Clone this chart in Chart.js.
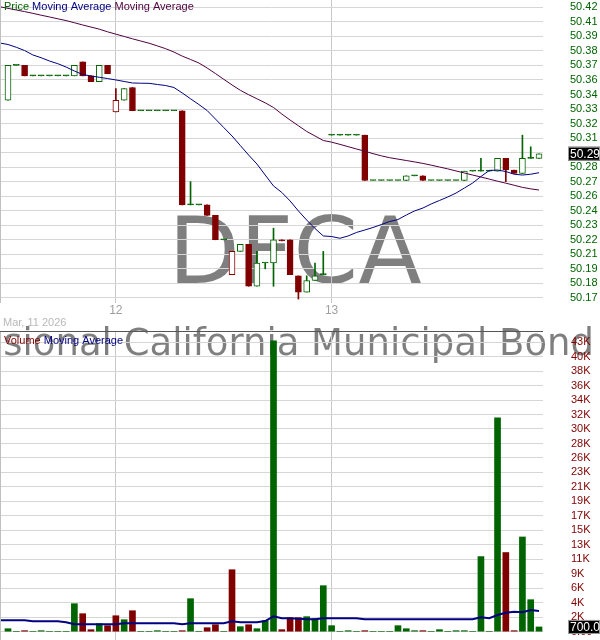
<!DOCTYPE html>
<html>
<head>
<meta charset="utf-8">
<script src="https://cdn.jsdelivr.net/npm/chart.js@4.4.1/dist/chart.umd.min.js"></script>
<style>
  html, body { margin: 0; padding: 0; background: #fff; }
  #wrap { position: relative; width: 600px; height: 640px; overflow: hidden; }
  #priceChart { position: absolute; left: 0; top: 0; }
  #volumeChart { position: absolute; left: 0; top: 315px; }
</style>
</head>
<body>
<div id="wrap">
  <canvas id="priceChart" width="600" height="320"></canvas>
  <canvas id="volumeChart" width="600" height="325"></canvas>
</div>
<script>
// 15 minute bars, Mar 11 (partial), Mar 12 and Mar 13
const opens = [
  50.340, 50.370, 50.370, 50.361, 50.361, 50.361, 50.361, 50.361, 50.361, 50.373, 50.361, 50.356, 50.370,
  50.330, 50.340, 50.351, 50.331, 50.331, 50.331, 50.331, 50.331, 50.331, 50.250, 50.250, 50.250, 50.241,
  50.220, 50.190, 50.210, 50.216, 50.180, 50.200, 50.200, 50.220, 50.220, 50.189, 50.175, 50.185, 50.190,
  50.310, 50.310, 50.310, 50.310, 50.310, 50.271, 50.271, 50.271, 50.271, 50.271, 50.275, 50.275, 50.271,
  50.271, 50.271, 50.271, 50.271, 50.279, 50.279, 50.279, 50.279, 50.290, 50.280, 50.277, 50.290, 50.290
];
const highs = [
  50.370, 50.370, 50.370, 50.361, 50.361, 50.361, 50.361, 50.361, 50.370, 50.373, 50.361, 50.370, 50.370,
  50.350, 50.350, 50.351, 50.331, 50.331, 50.331, 50.331, 50.331, 50.331, 50.270, 50.250, 50.250, 50.241,
  50.220, 50.210, 50.216, 50.216, 50.210, 50.200, 50.230, 50.220, 50.220, 50.189, 50.189, 50.200, 50.210,
  50.310, 50.310, 50.310, 50.310, 50.310, 50.271, 50.271, 50.271, 50.271, 50.275, 50.275, 50.275, 50.271,
  50.271, 50.271, 50.271, 50.279, 50.279, 50.290, 50.279, 50.290, 50.290, 50.280, 50.310, 50.300, 50.294
];
const lows = [
  50.340, 50.370, 50.361, 50.361, 50.361, 50.361, 50.361, 50.361, 50.361, 50.361, 50.356, 50.356, 50.363,
  50.330, 50.340, 50.331, 50.331, 50.331, 50.331, 50.331, 50.331, 50.250, 50.250, 50.250, 50.241, 50.220,
  50.220, 50.190, 50.210, 50.180, 50.180, 50.195, 50.180, 50.219, 50.190, 50.169, 50.175, 50.185, 50.190,
  50.310, 50.310, 50.310, 50.310, 50.271, 50.271, 50.271, 50.271, 50.271, 50.271, 50.275, 50.271, 50.271,
  50.271, 50.271, 50.271, 50.271, 50.279, 50.279, 50.279, 50.279, 50.270, 50.277, 50.277, 50.290, 50.290
];
const closes = [
  50.370, 50.370, 50.361, 50.361, 50.361, 50.361, 50.361, 50.361, 50.370, 50.361, 50.356, 50.370, 50.363,
  50.340, 50.350, 50.331, 50.331, 50.331, 50.331, 50.331, 50.331, 50.250, 50.250, 50.250, 50.241, 50.220,
  50.220, 50.210, 50.216, 50.180, 50.200, 50.200, 50.220, 50.219, 50.190, 50.175, 50.185, 50.189, 50.190,
  50.310, 50.310, 50.310, 50.310, 50.271, 50.271, 50.271, 50.271, 50.271, 50.275, 50.275, 50.271, 50.271,
  50.271, 50.271, 50.271, 50.279, 50.279, 50.279, 50.279, 50.290, 50.280, 50.277, 50.290, 50.290, 50.294
];
const volumes = [
  440, 0, 150, 0, 150, 0, 0, 0, 4140, 2660, 300, 1180, 890,
  2360, 1770, 3100, 0, 0, 150, 0, 0, 150, 4880, 0, 590, 1030,
  0, 9160, 740, 1030, 440, 1630, 43000, 300, 2070, 2070, 2220, 1920, 6800,
  890, 0, 150, 0, 150, 0, 0, 0, 890, 440, 150, 150, 0,
  300, 0, 150, 150, 0, 11100, 0, 31600, 11700, 150, 14000, 4730, 700
];
// moving averages: first value is the bar before the first one shown
const maShort = [50.3893,
  50.3880, 50.3856, 50.3828, 50.3790, 50.3766, 50.3738, 50.3715, 50.3686, 50.3652, 50.3622, 50.3609, 50.3598, 50.3587,
  50.3575, 50.3562, 50.3549, 50.3547, 50.3546, 50.3536, 50.3527, 50.3510, 50.3463, 50.3413, 50.3364, 50.3312, 50.3239,
  50.3166, 50.3093, 50.3011, 50.2929, 50.2852, 50.2757, 50.2663, 50.2607, 50.2534, 50.2448, 50.2370, 50.2297, 50.2233,
  50.2228, 50.2213, 50.2233, 50.2263, 50.2284, 50.2306, 50.2331, 50.2357, 50.2374, 50.2413, 50.2448, 50.2473, 50.2508,
  50.2538, 50.2568, 50.2602, 50.2645, 50.2688, 50.2744, 50.2796, 50.2800, 50.2787, 50.2764, 50.2757, 50.2764, 50.2777
];
const maLong = [50.4205,
  50.4191, 50.4177, 50.4163, 50.4148, 50.4132, 50.4117, 50.4101, 50.4086, 50.4067, 50.4048, 50.4030, 50.4012, 50.3989,
  50.3969, 50.3949, 50.3929, 50.3910, 50.3891, 50.3868, 50.3844, 50.3815, 50.3780, 50.3751, 50.3721, 50.3678, 50.3630,
  50.3581, 50.3532, 50.3486, 50.3448, 50.3413, 50.3378, 50.3338, 50.3282, 50.3230, 50.3181, 50.3132, 50.3093, 50.3054,
  50.3040, 50.3021, 50.3001, 50.2981, 50.2962, 50.2941, 50.2922, 50.2906, 50.2894, 50.2882, 50.2870, 50.2857, 50.2842,
  50.2826, 50.2810, 50.2792, 50.2775, 50.2757, 50.2740, 50.2722, 50.2704, 50.2687, 50.2669, 50.2651, 50.2638, 50.2628
];
const volumeMa = [1690,
  1690, 1690, 1690, 1540, 1540, 1540, 1540, 1390, 1090, 1090, 1090, 1090, 1090,
  1090, 1240, 1240, 1240, 1240, 1240, 1240, 1240, 1090, 1240, 1240, 1240, 1240,
  1240, 1540, 1390, 1390, 1390, 1580, 2280, 1980, 1980, 1900, 1830, 1830, 1980,
  1980, 1980, 1980, 1980, 1830, 1830, 1830, 1830, 1830, 1830, 1830, 1830, 1830,
  1830, 1830, 1830, 1830, 1830, 2130, 1980, 2470, 2810, 2960, 2880, 3210, 3060
];

const dayTickSlots = [13, 39];
const dayTickLabels = ['12', '13'];
const priceTickLabels = ['50.17', '50.18', '50.19', '50.21', '50.22', '50.23', '50.24', '50.26', '50.27', '50.28', '50.29',
  '50.31', '50.32', '50.33', '50.34', '50.36', '50.37', '50.38', '50.39', '50.41', '50.42'];
const volumeTickLabels = ['0.00', '2K', '4K', '6K', '9K', '11K', '13K', '15K', '17K', '19K', '21K',
  '23K', '26K', '28K', '30K', '32K', '34K', '36K', '38K', '40K', '43K'];
const PRICE_STEP = 0.0125;
const VOLUME_STEP = 2140;

const GREEN = '#006400';
const RED = '#800000';
const NAVY = '#000080';
const PURPLE = '#500040';

Chart.defaults.font.family = '"Liberation Sans", Arial, sans-serif';

const slots = closes.map((c, i) => i);
const candleColors = slots.map(i => closes[i] >= (i ? closes[i - 1] : opens[i]) ? GREEN : RED);
const bodyFills = slots.map(i => closes[i] > opens[i] ? '#ffffff' : candleColors[i]);

function slotAxis(showLabels, height) {
  return {
    type: 'linear', min: -0.964, max: 64.48, offset: false,
    grid: { color: '#c8c8c8', drawTicks: false, offset: false },
    border: { display: false },
    ticks: { display: showLabels, color: '#a0a0a0', font: { size: 12 }, padding: 0, autoSkip: false, maxRotation: 0,
      callback: (v, i) => dayTickLabels[i] },
    afterBuildTicks: s => { s.ticks = dayTickSlots.map(v => ({ value: v })); },
    afterFit: s => { s.height = height; s.paddingLeft = 0; s.paddingRight = 0; }
  };
}

function drawLeftBorder(chart) {
  const { ctx, chartArea } = chart;
  ctx.save();
  ctx.strokeStyle = '#c0c0c0';
  ctx.beginPath();
  ctx.moveTo(0.5, chartArea.top);
  ctx.lineTo(0.5, chartArea.bottom);
  ctx.stroke();
  ctx.restore();
}

function drawLegend(ctx, parts, x, y) {
  ctx.save();
  ctx.font = '11px "Liberation Sans", Arial, sans-serif';
  ctx.textBaseline = 'middle';
  ctx.textAlign = 'left';
  parts.forEach(([text, color]) => {
    ctx.fillStyle = color;
    ctx.fillText(text, x, y);
    x += ctx.measureText(text + ' ').width;
  });
  ctx.restore();
}

function drawValueBox(ctx, text, y) {
  ctx.save();
  ctx.fillStyle = '#000';
  ctx.fillRect(568, y - 7, 32, 14);
  ctx.strokeStyle = '#9a9a9a';
  ctx.strokeRect(568.5, y - 6.5, 31, 13);
  ctx.fillStyle = '#fff';
  ctx.font = '12px "Liberation Sans", Arial, sans-serif';
  ctx.textBaseline = 'middle';
  ctx.fillText(text, 570, y + 0.5);
  ctx.restore();
}

const pricePanel = {
  id: 'pricePanel',
  beforeDraw(chart) {
    const ctx = chart.ctx;
    ctx.save();
    ctx.font = '93px "DejaVu Sans"';
    ctx.fillStyle = 'rgba(0,0,0,0.5)';
    ctx.textAlign = 'center';
    ctx.textBaseline = 'alphabetic';
    ctx.fillText('DFCA', 295, 283);
    ctx.restore();
  },
  afterDraw(chart) {
    const ctx = chart.ctx;
    drawLeftBorder(chart);
    drawLegend(ctx, [['Price', GREEN], ['Moving Average', NAVY], ['Moving Average', PURPLE]], 4, 7);
    const last = closes.length - 1;
    drawValueBox(ctx, closes[last].toFixed(2), chart.scales.y.getPixelForValue(closes[last]));
  }
};

const volumePanel = {
  id: 'volumePanel',
  beforeDraw(chart) {
    const ctx = chart.ctx;
    ctx.save();
    ctx.font = '37px "DejaVu Sans"';
    ctx.fillStyle = 'rgba(0,0,0,0.5)';
    ctx.textBaseline = 'alphabetic';
    ctx.textAlign = 'left';
    const shown = 'Dimensional California Municipal Bond';
    const x = 594 - ctx.measureText(shown).width;
    ctx.fillText(shown + ' ETF', x, 40);
    ctx.font = '11px "Liberation Sans", Arial, sans-serif';
    ctx.fillStyle = '#b8b8b8';
    ctx.textBaseline = 'middle';
    ctx.fillText('Mar, 11 2026', 3, 8);
    ctx.restore();
  },
  afterDraw(chart) {
    const { ctx, chartArea } = chart;
    drawLeftBorder(chart);
    ctx.save();
    ctx.strokeStyle = '#555';
    ctx.beginPath();
    ctx.moveTo(0, chartArea.top + 0.5);
    ctx.lineTo(chartArea.right, chartArea.top + 0.5);
    ctx.stroke();
    ctx.restore();
    drawLegend(ctx, [['Volume', RED], ['Moving Average', NAVY]], 4, 26);
    const last = volumes.length - 1;
    drawValueBox(ctx, volumes[last].toFixed(2), chart.scales.y.getPixelForValue(volumes[last]));
  }
};

new Chart(document.getElementById('priceChart'), {
  type: 'bar',
  data: {
    datasets: [
      { type: 'line', data: maShort.map((v, k) => ({ x: k - 1, y: v })), borderColor: NAVY, borderWidth: 1,
        pointRadius: 0, order: 0 },
      { type: 'line', data: maLong.map((v, k) => ({ x: k - 1, y: v })), borderColor: PURPLE, borderWidth: 1,
        pointRadius: 0, order: 0 },
      { data: slots.map(i => ({ x: i, y: [opens[i], closes[i]] })), backgroundColor: bodyFills,
        borderColor: candleColors, borderWidth: 1, borderSkipped: false, barThickness: 6,
        minBarLength: 1, grouped: false, order: 1 },
      { data: slots.map(i => ({ x: i, y: [lows[i], highs[i]] })), backgroundColor: candleColors,
        borderWidth: 0, barThickness: 1, grouped: false, order: 2 }
    ]
  },
  options: {
    responsive: false, animation: false, devicePixelRatio: 1,
    layout: { padding: 0 },
    plugins: { legend: { display: false }, tooltip: { enabled: false } },
    scales: {
      x: slotAxis(true, 17),
      y: {
        position: 'right', min: 50.16561, max: 50.42628,
        grid: { color: '#d6d6d6', drawTicks: true, tickLength: 26, tickColor: 'rgba(0,0,0,0)' },
        border: { display: false },
        ticks: { color: GREEN, font: { size: 11 }, padding: 1, autoSkip: false,
          callback: (v, i) => priceTickLabels[i] },
        afterBuildTicks: s => { s.ticks = priceTickLabels.map((l, k) => ({ value: 50.17 + k * PRICE_STEP })); },
        afterFit: s => { s.width = 57; s.paddingTop = 0; s.paddingBottom = 0; }
      }
    }
  },
  plugins: [pricePanel]
});

new Chart(document.getElementById('volumeChart'), {
  type: 'bar',
  data: {
    datasets: [
      { type: 'line', data: volumeMa.map((v, k) => ({ x: k - 1, y: v })), borderColor: NAVY, borderWidth: 2,
        pointRadius: 0, order: 0 },
      { data: slots.map(i => ({ x: i, y: volumes[i] })), backgroundColor: candleColors,
        borderWidth: 0, barThickness: 6, grouped: false, order: 1 }
    ]
  },
  options: {
    responsive: false, animation: false, devicePixelRatio: 1,
    layout: { padding: { top: 16 } },
    plugins: { legend: { display: false }, tooltip: { enabled: false } },
    scales: {
      x: slotAxis(false, 0),
      y: {
        position: 'right', min: -1227, max: 44443,
        grid: { color: '#d6d6d6', drawTicks: true, tickLength: 27, tickColor: 'rgba(0,0,0,0)' },
        border: { display: false },
        ticks: { color: RED, font: { size: 11 }, padding: 1, autoSkip: false,
          callback: (v, i) => volumeTickLabels[i] },
        afterBuildTicks: s => { s.ticks = volumeTickLabels.map((l, k) => ({ value: k * VOLUME_STEP })); },
        afterFit: s => { s.width = 57; s.paddingTop = 0; s.paddingBottom = 0; }
      }
    }
  },
  plugins: [volumePanel]
});
</script>
</body>
</html>
